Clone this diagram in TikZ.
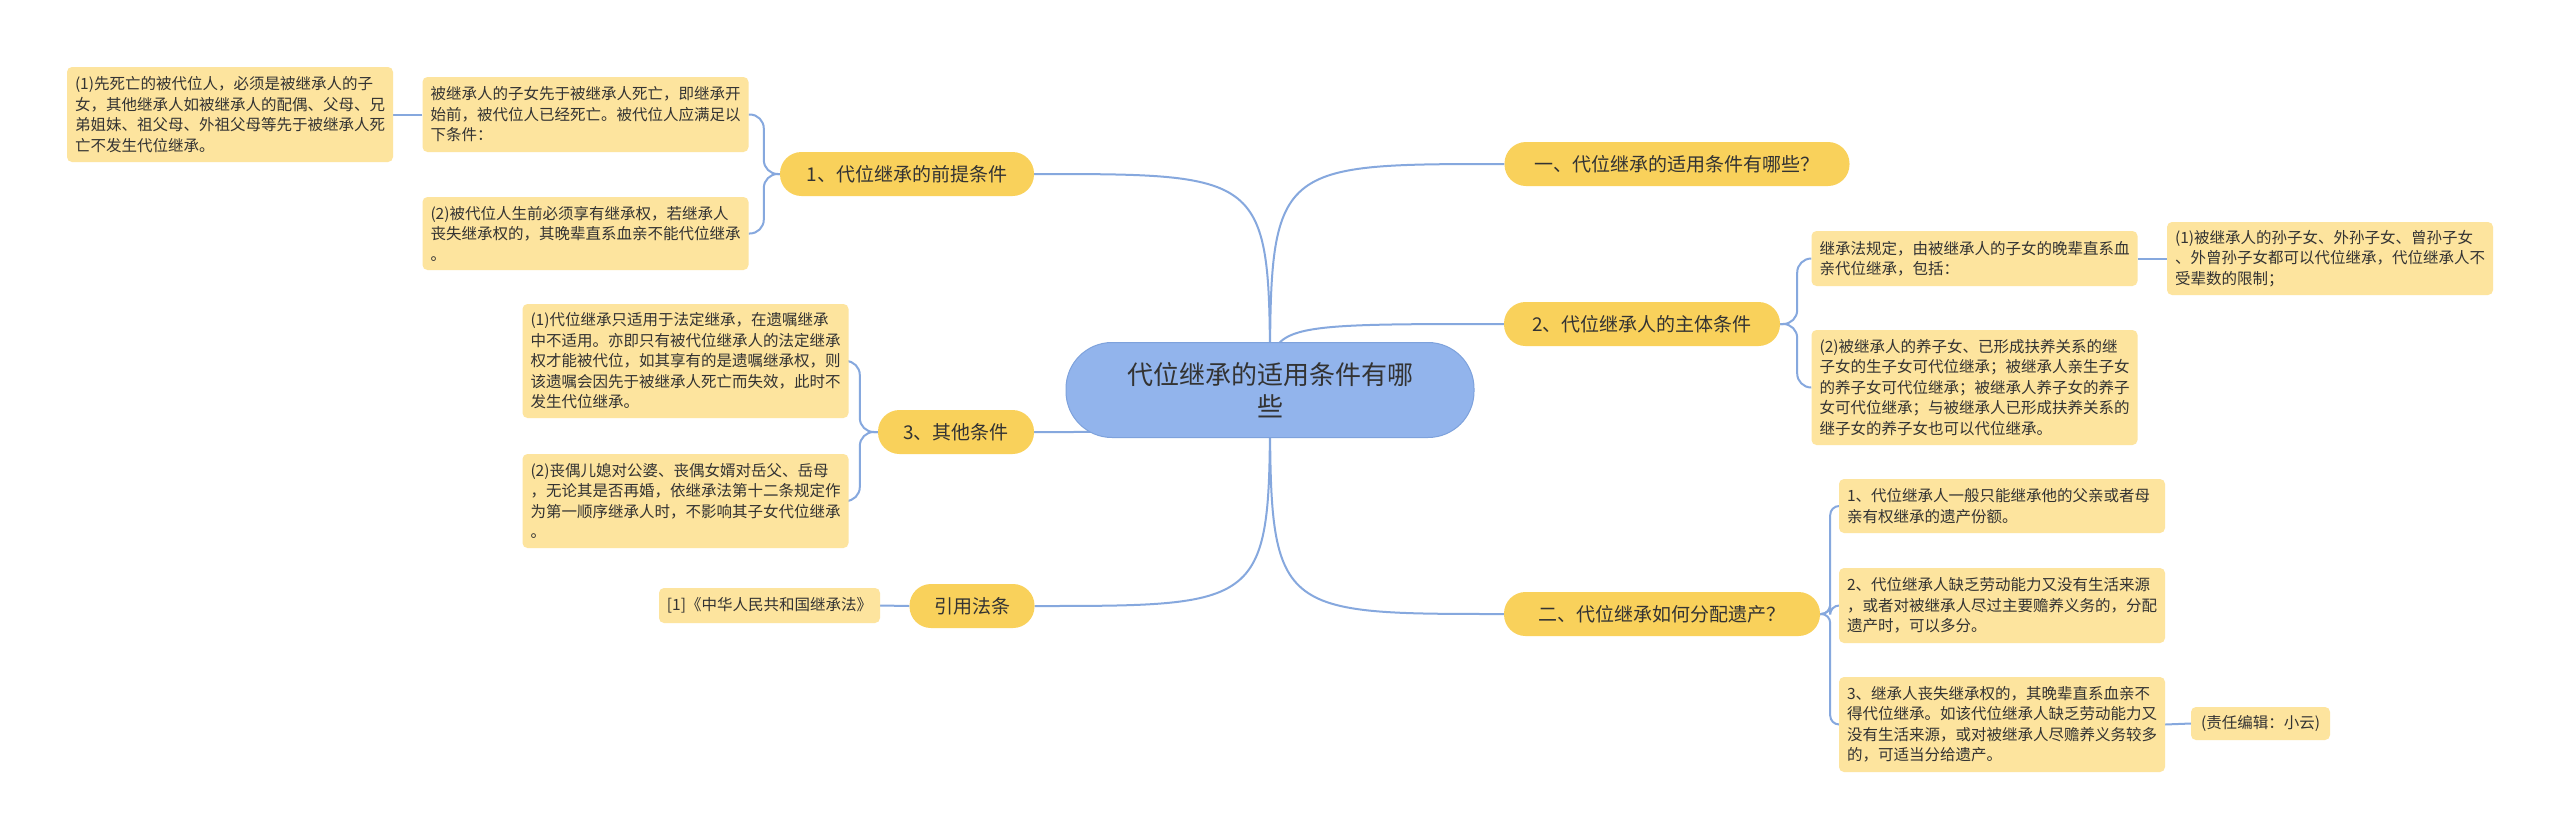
\documentclass[tikz,border=0pt]{standalone}
\usepackage{fontspec}
\setmainfont{Noto Sans CJK SC}
\usetikzlibrary{backgrounds}
\definecolor{linec}{HTML}{86A8DE}
\definecolor{leaff}{HTML}{FDE49E}
\definecolor{branchf}{HTML}{F9D15B}
\definecolor{centf}{HTML}{92B4EC}
\definecolor{centd}{HTML}{7EA2DC}
\definecolor{txt}{HTML}{333333}
\begin{document}
\begin{tikzpicture}[x=1pt,y=-1pt,
  leaf/.style={fill=leaff, rounded corners=5pt, text=txt, font=\fontsize{15.5}{20.5}\selectfont,
    align=left, text width=310pt, inner xsep=8pt, inner ysep=0pt, minimum width=326pt},
  tag/.style={fill=leaff, rounded corners=5pt, text=txt, font=\fontsize{15.5}{20.5}\selectfont,
    align=center, inner sep=0pt},
  branch/.style={fill=branchf, rounded corners=21.5pt, text=txt, font=\fontsize{19}{23}\selectfont,
    inner sep=0pt, minimum height=44pt},
  central/.style={fill=centf, draw=centd, line width=1pt, rounded corners=46pt, text=txt,
    font=\fontsize{26}{32}\selectfont, align=center, inner sep=0pt, minimum width=408pt, minimum height=95pt},
  conn/.style={draw=linec, line width=2pt}
]
\useasboundingbox (0,0) rectangle (2560,839);

% central
\node[central] (C) at (1270,390) {代位继承的适用条件有哪\\些};

% main branches
\node[branch, minimum width=254pt] (B1) at (907,174) {1、代位继承的前提条件};
\node[branch, minimum width=156pt] (B3) at (956,432) {3、其他条件};
\node[branch, minimum width=125pt] (B4) at (972,606) {引用法条};
\node[branch, minimum width=345pt] (R1) at (1677,164) {一、代位继承的适用条件有哪些？};
\node[branch, minimum width=276pt] (R2) at (1642,324) {2、代位继承人的主体条件};
\node[branch, minimum width=316pt] (R3) at (1662,614) {二、代位继承如何分配遗产？};

% left leaves
\node[leaf, minimum height=95pt] (L1a) at (230,114.5) {(1)先死亡的被代位人，必须是被继承人的子\\女，其他继承人如被继承人的配偶、父母、兄\\弟姐妹、祖父母、外祖父母等先于被继承人死\\亡不发生代位继承。};
\node[leaf, minimum height=75pt] (L1b) at (585.5,114.5) {被继承人的子女先于被继承人死亡，即继承开\\始前，被代位人已经死亡。被代位人应满足以\\下条件：};
\node[leaf, minimum height=73pt] (L1c) at (585.5,233.5) {(2)被代位人生前必须享有继承权，若继承人\\丧失继承权的，其晚辈直系血亲不能代位继承\\。};
\node[leaf, minimum height=114pt] (L3a) at (685.5,361) {(1)代位继承只适用于法定继承，在遗嘱继承\\中不适用。亦即只有被代位继承人的法定继承\\权才能被代位，如其享有的是遗嘱继承权，则\\该遗嘱会因先于被继承人死亡而失效，此时不\\发生代位继承。};
\node[leaf, minimum height=94pt] (L3b) at (685.5,501) {(2)丧偶儿媳对公婆、丧偶女婿对岳父、岳母\\，无论其是否再婚，依继承法第十二条规定作\\为第一顺序继承人时，不影响其子女代位继承\\。};
\node[tag, minimum width=221pt, minimum height=35pt] (L4) at (769.5,605.5) {[1]《中华人民共和国继承法》};

% right leaves
\node[leaf, minimum height=55pt] (R2a) at (1974.5,258.5) {继承法规定，由被继承人的子女的晚辈直系血\\亲代位继承，包括：};
\node[leaf, minimum height=115pt] (R2b) at (1974.5,387.5) {(2)被继承人的养子女、已形成扶养关系的继\\子女的生子女可代位继承；被继承人亲生子女\\的养子女可代位继承；被继承人养子女的养子\\女可代位继承；与被继承人已形成扶养关系的\\继子女的养子女也可以代位继承。};
\node[leaf, minimum height=73pt] (R2c) at (2330,258.5) {(1)被继承人的孙子女、外孙子女、曾孙子女\\、外曾孙子女都可以代位继承，代位继承人不\\受辈数的限制；};
\node[leaf, minimum height=54pt] (R3a) at (2002,506) {1、代位继承人一般只能继承他的父亲或者母\\亲有权继承的遗产份额。};
\node[leaf, minimum height=75pt] (R3b) at (2002,605.5) {2、代位继承人缺乏劳动能力又没有生活来源\\，或者对被继承人尽过主要赡养义务的，分配\\遗产时，可以多分。};
\node[leaf, minimum height=95pt] (R3c) at (2002,724.5) {3、继承人丧失继承权的，其晚辈直系血亲不\\得代位继承。如该代位继承人缺乏劳动能力又\\没有生活来源，或对被继承人尽赡养义务较多\\的，可适当分给遗产。};
\node[tag, minimum width=139pt, minimum height=33pt] (Ed) at (2260.5,723.5) {(责任编辑：小云)};

\begin{scope}[on background layer]
\fill[white] (0,0) rectangle (2560,839);
% central to branches
\draw[conn] (C.center) .. controls (C.center |- B1.east) .. (B1.east);
\draw[conn] (C.center) .. controls (C.center |- B3.east) .. (B3.east);
\draw[conn] (C.center) .. controls (C.center |- B4.east) .. (B4.east);
\draw[conn] (C.center) .. controls (C.center |- R1.west) .. (R1.west);
\draw[conn] (C.center) .. controls (C.center |- R2.west) .. (R2.west);
\draw[conn] (C.center) .. controls (C.center |- R3.west) .. (R3.west);
% left brackets
\draw[conn, rounded corners=14pt] (B1.west) -- ++(-16,0) |- (L1b.east);
\draw[conn, rounded corners=14pt] (B1.west) -- ++(-16,0) |- (L1c.east);
\draw[conn] (L1b.west) -- (L1a.east);
\draw[conn, rounded corners=14pt] (B3.west) -- ++(-18,0) |- (L3a.east);
\draw[conn, rounded corners=14pt] (B3.west) -- ++(-18,0) |- (L3b.east);
\draw[conn] (B4.west) -- (L4.east);
% right brackets
\draw[conn, rounded corners=14pt] (R2.east) -- ++(17,0) |- (R2a.west);
\draw[conn, rounded corners=14pt] (R2.east) -- ++(17,0) |- (R2b.west);
\draw[conn] (R2a.east) -- (R2c.west);
\draw[conn, rounded corners=9pt] (R3.east) -- ++(10,0) |- (R3a.west);
\draw[conn, rounded corners=9pt] (R3.east) -- ++(10,0) |- (R3b.west);
\draw[conn, rounded corners=9pt] (R3.east) -- ++(10,0) |- (R3c.west);
\draw[conn] (R3c.east) -- (Ed.west);
\end{scope}
\end{tikzpicture}
\end{document}
